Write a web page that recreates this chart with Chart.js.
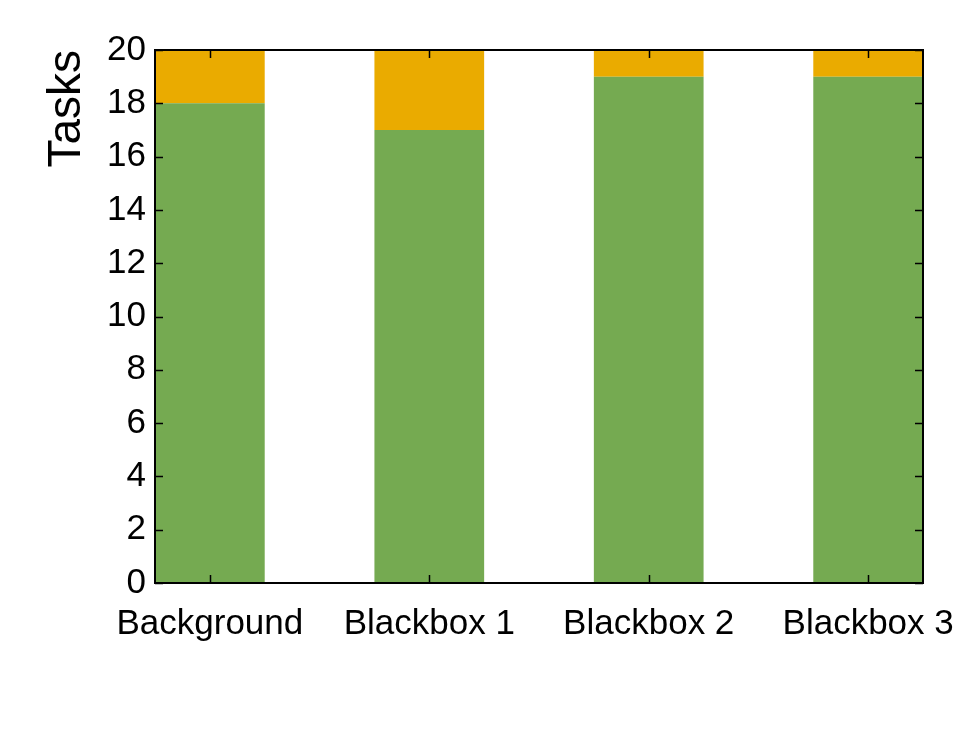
<!DOCTYPE html>
<html>
<head>
<meta charset="utf-8">
<script src="https://cdn.jsdelivr.net/npm/chart.js@4/dist/chart.umd.min.js"></script>
<style>
  html, body { margin: 0; padding: 0; background: #fff; }
  #wrap { width: 972px; height: 729px; }
</style>
</head>
<body>
<div id="wrap"><canvas id="myChart"></canvas></div>
<script>
const categories = ["Background", "Blackbox 1", "Blackbox 2", "Blackbox 3"];
const passed = [18, 17, 19, 19];
const failed = [2, 3, 1, 1];
const yTicks = [0, 2, 4, 6, 8, 10, 12, 14, 16, 18, 20];

const FONT = "'Liberation Sans', Arial, Helvetica, sans-serif";

// gnuplot-like box with inward ticks on all four sides
const frame = {
  id: "frame",
  afterDatasetsDraw(chart) {
    const ctx = chart.ctx;
    const a = chart.chartArea;
    const xs = chart.scales.x;
    const ys = chart.scales.y;
    const len = 8;
    ctx.save();
    ctx.strokeStyle = "#000";
    ctx.lineWidth = 1.5;
    ctx.beginPath();
    xs.ticks.forEach((t) => {
      const px = Math.round(xs.getPixelForValue(t.value)) + 0.5;
      ctx.moveTo(px, a.bottom);
      ctx.lineTo(px, a.bottom - len);
      ctx.moveTo(px, a.top);
      ctx.lineTo(px, a.top + len);
    });
    ys.ticks.forEach((t) => {
      const py = Math.round(ys.getPixelForValue(t.value)) + 0.5;
      ctx.moveTo(a.left, py);
      ctx.lineTo(a.left + len, py);
      ctx.moveTo(a.right, py);
      ctx.lineTo(a.right - len, py);
    });
    ctx.stroke();
    ctx.lineWidth = 2;
    ctx.strokeRect(a.left, a.top, a.right - a.left, a.bottom - a.top);
    ctx.restore();
  },
};

const ctx = document.getElementById("myChart").getContext("2d");
new Chart(ctx, {
  type: "bar",
  data: {
    datasets: [
      {
        label: "Passed",
        data: passed.map((v, i) => ({ x: i, y: v })),
        backgroundColor: "#75aa51",
        borderWidth: 0,
      },
      {
        label: "Failed",
        data: failed.map((v, i) => ({ x: i, y: v })),
        backgroundColor: "#eaab00",
        borderWidth: 0,
      },
    ],
  },
  options: {
    responsive: true,
    maintainAspectRatio: false,
    animation: false,
    categoryPercentage: 1.0,
    barPercentage: 0.5,
    layout: { padding: { left: 40, right: 49, top: 50, bottom: 0 } },
    plugins: {
      legend: { display: false },
      tooltip: { enabled: false },
    },
    scales: {
      x: {
        type: "linear",
        stacked: true,
        offset: false,
        min: -0.25,
        max: 3.25,
        afterBuildTicks: (scale) => {
          scale.ticks = categories.map((c, i) => ({ value: i }));
        },
        afterFit: (scale) => {
          scale.height = 146;
          scale.paddingLeft = 0;
          scale.paddingRight = 0;
        },
        grid: { display: false, drawTicks: false, offset: false },
        border: { display: false },
        ticks: {
          color: "#000",
          padding: 20,
          maxRotation: 0,
          autoSkip: false,
          font: { family: FONT, size: 35 },
          callback: (v) => categories[v],
        },
      },
      y: {
        stacked: true,
        min: 0,
        max: 20,
        afterBuildTicks: (scale) => {
          scale.ticks = yTicks.map((v) => ({ value: v }));
        },
        afterFit: (scale) => {
          scale.width = 115;
        },
        grid: { display: false, drawTicks: false },
        border: { display: false },
        ticks: {
          color: "#000",
          padding: 9,
          font: { family: FONT, size: 35 },
        },
        title: {
          display: true,
          text: "Tasks",
          align: "end",
          color: "#000",
          padding: 0,
          font: { family: FONT, size: 46 },
        },
      },
    },
  },
  plugins: [frame],
});
</script>
</body>
</html>
